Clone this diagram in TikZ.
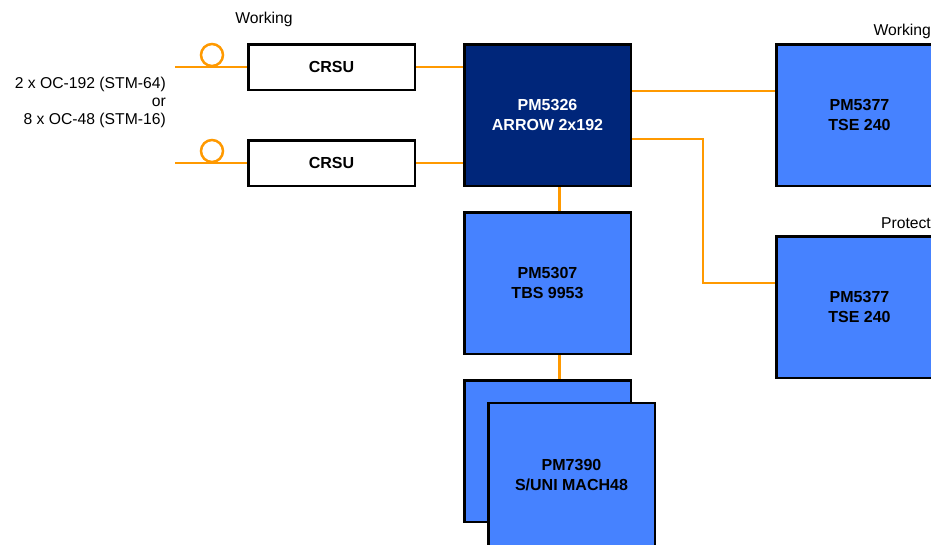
\documentclass[tikz,border=0pt]{standalone}
\usepackage{fontspec}
\setmainfont{Liberation Sans}
\definecolor{wire}{HTML}{FF9900}
\definecolor{chipblue}{HTML}{4682FF}
\definecolor{chipnavy}{HTML}{00267A}
\begin{document}
\begin{tikzpicture}[x=1pt,y=-1pt,
  every node/.style={font=\fontsize{15.7}{18}\selectfont},
  chip/.style={draw=black, line width=2.5pt, fill=chipblue, minimum width=166.5pt, minimum height=141.5pt, inner sep=0pt, align=center, font=\fontsize{16}{19.5}\selectfont\bfseries},
  darkchip/.style={chip, fill=chipnavy, text=white},
  crsubox/.style={draw=black, line width=2.5pt, fill=white, minimum width=166.5pt, minimum height=45.5pt, inner sep=0pt, font=\fontsize{16}{19.5}\selectfont\bfseries},
  wireline/.style={draw=wire, line width=2.5pt},
  loop/.style={circle, draw=wire, line width=2.5pt, minimum size=22pt, inner sep=0pt},
  lbl/.style={inner sep=0pt, align=right}
]
\useasboundingbox (0,0) rectangle (931,544);
\clip (0,0) rectangle (931,544);
% boxes
\node[crsubox] (crsu1) at (331.5,67) {CRSU};
\node[crsubox] (crsu2) at (331.5,163) {CRSU};
\node[darkchip] (arrow) at (547.5,115) {PM5326\\ARROW 2x192};
\node[chip] (tbs) at (547.5,283) {PM5307\\TBS 9953};
\node[chip] (machb) at (547.5,451) {};
\node[chip, minimum height=170pt] (mach) at (571.5,488) {};
\node[inner sep=0pt, align=center, font=\fontsize{16}{19.5}\selectfont\bfseries] (machtext) at (571.5,475) {PM7390\\S/UNI MACH48};
\node[chip] (tse1) at (859.5,115) {PM5377\\TSE 240};
\node[chip] (tse2) at (859.5,307) {PM5377\\TSE 240};
% loops
\node[loop] (loop1) at (212,55) {};
\node[loop] (loop2) at (212,151) {};
% connectors
\coordinate (in1) at (175,67);
\coordinate (in2) at (175,163);
\coordinate (j) at (703,283);
\draw[wireline] (in1) -- (crsu1.west);
\draw[wireline] (in2) -- (crsu2.west);
\draw[wireline] (crsu1.east) -- (arrow.west |- crsu1.east);
\draw[wireline] (crsu2.east) -- (arrow.west |- crsu2.east);
\draw[wireline] ([xshift=12pt]arrow.south) -- ([xshift=12pt]tbs.north);
\draw[wireline] ([xshift=12pt]tbs.south) -- ([xshift=12pt]machb.north);
\draw[wireline] ([yshift=24pt]arrow.east) -- ([yshift=24pt]tse1.west);
\draw[wireline] ([yshift=-24pt]arrow.east) -| (j) -- ([yshift=24pt]tse2.west);
% labels
\node[inner sep=0pt] (lw) at (264,19) {Working};
\node[lbl, anchor=east] (lin) at (166,102) {2 x OC-192 (STM-64)\\or\\8 x OC-48 (STM-16)};
\node[inner sep=0pt, anchor=east] (lw2) at (931,31) {Working};
\node[inner sep=0pt, anchor=east] (lp) at (931,223) {Protect};
\end{tikzpicture}
\end{document}
